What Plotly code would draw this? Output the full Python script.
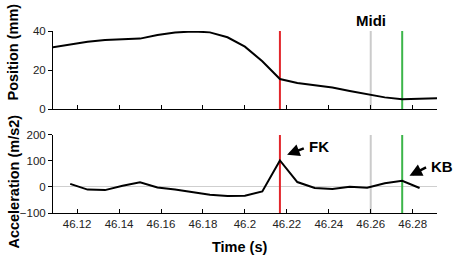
import plotly.graph_objects as go

# ---- data ----
pos_time = [46.1083, 46.1167, 46.1250, 46.1333, 46.1417, 46.1500, 46.1583, 46.1667,
            46.1750, 46.1833, 46.1917, 46.2000, 46.2083, 46.2167, 46.2250, 46.2333,
            46.2417, 46.2500, 46.2583, 46.2667, 46.2750, 46.2833, 46.2917]
position_mm = [31.6, 33.0, 34.5, 35.4, 35.8, 36.1, 37.9, 39.2, 39.8, 39.3, 36.8, 32.0,
               24.5, 15.4, 13.4, 12.3, 11.0, 9.3, 7.8, 6.0, 5.0, 5.4, 5.6]

acc_time = [46.1167, 46.1250, 46.1333, 46.1417, 46.1500, 46.1583, 46.1667, 46.1750,
            46.1833, 46.1917, 46.2000, 46.2083, 46.2167, 46.2250, 46.2333, 46.2417,
            46.2500, 46.2583, 46.2667, 46.2750, 46.2833]
acceleration = [12, -10, -12, 5, 18, -2, -10, -20, -30, -35, -34, -17, 102, 19, -4, -8,
                1, -3, 14, 24, -4]

event_times = [46.2167, 46.2600, 46.2750]
event_colors = ["#e2262b", "#cbcbcb", "#3cb54a"]

x_tickvals = [46.12, 46.14, 46.16, 46.18, 46.20, 46.22, 46.24, 46.26, 46.28]
x_ticktext = ["46.12", "46.14", "46.16", "46.18", "46.2", "46.22", "46.24", "46.26", "46.28"]
pos_ticks = [0, 20, 40]
acc_ticks = [-100, 0, 100, 200]
acc_ticktext = ["\u2212100", "0", "100", "200"]

x_range = [46.1085, 46.2916]
pos_range = [0, 40]
acc_range = [-100, 200]

TICKFONT = dict(family="Liberation Sans, Arial, sans-serif", size=11.5, color="#222")
TITLEFONT = dict(family="Liberation Sans, Arial, sans-serif", size=14.5, color="#000")
LABELFONT = dict(family="Liberation Sans, Arial, sans-serif", size=15, color="black")

fig = go.Figure()

# event lines (drawn first so the black curves sit on top)
for t, c in zip(event_times, event_colors):
    fig.add_trace(go.Scatter(x=[t, t], y=pos_range, mode="lines", xaxis="x", yaxis="y",
                             line=dict(color=c, width=2), showlegend=False, hoverinfo="skip",
                             cliponaxis=False))
    fig.add_trace(go.Scatter(x=[t, t], y=acc_range, mode="lines", xaxis="x2", yaxis="y2",
                             line=dict(color=c, width=2), showlegend=False, hoverinfo="skip",
                             cliponaxis=False))

fig.add_trace(go.Scatter(x=pos_time, y=position_mm, mode="lines", xaxis="x", yaxis="y",
                         line=dict(color="black", width=2), showlegend=False))
fig.add_trace(go.Scatter(x=acc_time, y=acceleration, mode="lines", xaxis="x2", yaxis="y2",
                         line=dict(color="black", width=2), showlegend=False))

common_x = dict(range=x_range, tickmode="array", tickvals=x_tickvals, ticks="inside",
                ticklen=4, tickcolor="black", showline=True, linecolor="black", linewidth=1,
                showgrid=False, zeroline=False, tickfont=TICKFONT, automargin=False)

fig.update_layout(
    width=454, height=257,
    margin=dict(l=53, r=17, t=31, b=44),
    paper_bgcolor="white", plot_bgcolor="white",
    xaxis=dict(common_x, domain=[0, 1], anchor="y", showticklabels=False),
    xaxis2=dict(common_x, domain=[0, 1], anchor="y2", ticktext=x_ticktext),
    yaxis=dict(domain=[0.571, 1.0], anchor="x", range=pos_range, tickmode="array",
               tickvals=pos_ticks, ticks="outside", ticklen=4, tickcolor="black",
               showline=True, linecolor="black", linewidth=1, showgrid=False,
               zeroline=False, tickfont=TICKFONT, automargin=False),
    yaxis2=dict(domain=[0.0, 0.4286], anchor="x2", range=acc_range, tickmode="array",
                tickvals=acc_ticks, ticktext=acc_ticktext, ticks="outside", ticklen=4,
                tickcolor="black", showline=True, linecolor="black", linewidth=1,
                showgrid=False, zeroline=True, zerolinecolor="#cfcfcf", zerolinewidth=1,
                tickfont=TICKFONT, automargin=False),
)

# axis titles
fig.add_annotation(x=-0.104, y=0.882, xref="paper", yref="paper", text="<b>Position (mm)</b>",
                   textangle=-90, showarrow=False, font=TITLEFONT,
                   xanchor="center", yanchor="middle")
fig.add_annotation(x=-0.104, y=0.173, xref="paper", yref="paper",
                   text="<b>Acceleration (m/s2)</b>", textangle=-90, showarrow=False,
                   font=TITLEFONT, xanchor="center", yanchor="middle")
fig.add_annotation(x=0.486, y=-0.185, xref="paper", yref="paper", text="<b>Time (s)</b>",
                   showarrow=False, font=TITLEFONT, xanchor="center", yanchor="middle")

# Midi label (above the top panel, centred on the Midi event line)
fig.add_annotation(x=event_times[1], y=1.06, xref="x", yref="paper", text="<b>Midi</b>",
                   showarrow=False, font=LABELFONT, xanchor="center", yanchor="middle")
# FK arrow + label
fig.add_annotation(x=46.2201, y=124, xref="x2", yref="y2", ax=46.2288, ay=151,
                   axref="x2", ayref="y2", text="", showarrow=True, arrowhead=2,
                   arrowsize=1.0, arrowwidth=2.5, arrowcolor="black")
fig.add_annotation(x=46.2298, y=155, xref="x2", yref="y2", text="<b>FK</b>",
                   showarrow=False, xanchor="left", font=LABELFONT)
# KB arrow + label
fig.add_annotation(x=46.2785, y=43, xref="x2", yref="y2", ax=46.2871, ay=78,
                   axref="x2", ayref="y2", text="", showarrow=True, arrowhead=2,
                   arrowsize=1.0, arrowwidth=2.5, arrowcolor="black")
fig.add_annotation(x=46.2880, y=78, xref="x2", yref="y2", text="<b>KB</b>",
                   showarrow=False, xanchor="left", font=LABELFONT)

# remove the default 8px page margin so the figure fills the window exactly
fig.write_html("out.html", config={"displayModeBar": False},
               post_script="document.body.style.margin='0';")
